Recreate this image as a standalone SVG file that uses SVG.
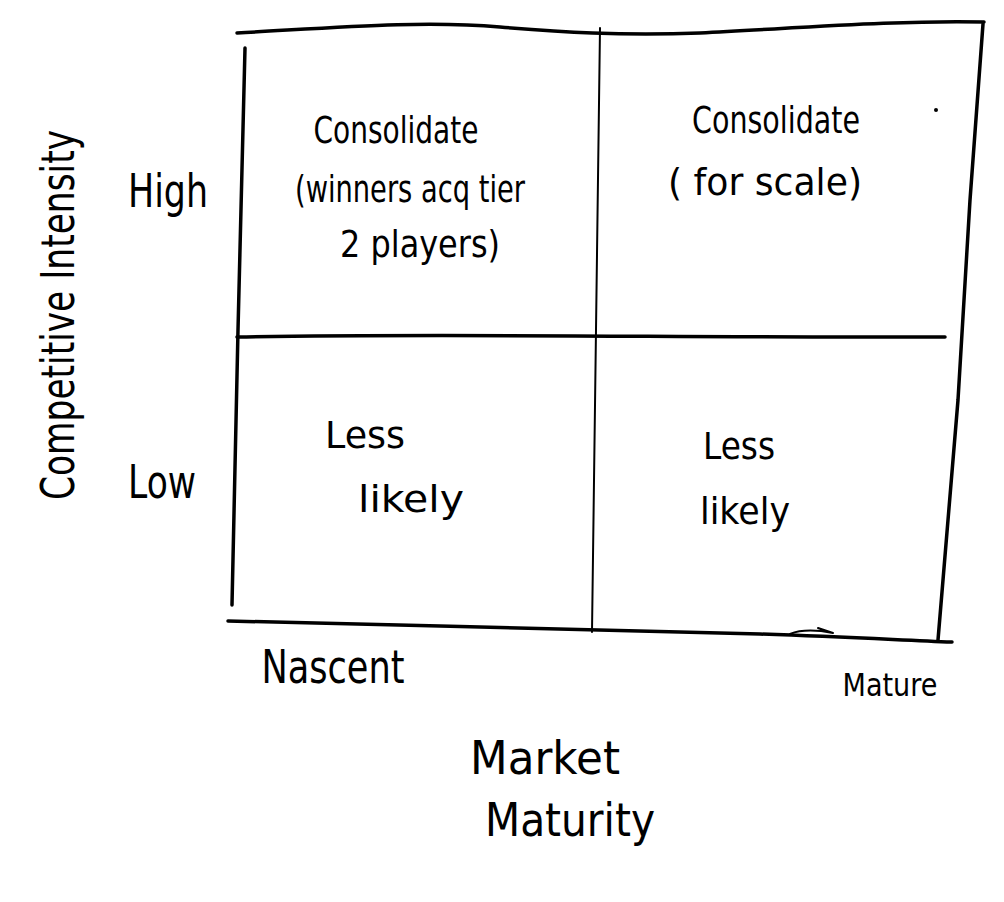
<svg xmlns="http://www.w3.org/2000/svg" width="1004" height="902" viewBox="0 0 1004 902">
<style>
.ln{fill:none;stroke:#000;stroke-width:3.5;stroke-linecap:round;stroke-linejoin:round}
.thin{fill:none;stroke:#000;stroke-width:2;stroke-linecap:round}
text{font-family:"DejaVu Sans","Liberation Sans",sans-serif;fill:#000}
.t{font-size:46px}
.s{font-size:38px}
</style>
<rect width="1004" height="902" fill="#fff"/>
<g id="connectors">
<path class="ln" d="M237,33 C330,28 420,20 500,27 C560,32 620,36 700,33 C800,28 900,20 984,22"/>
<path class="ln" d="M245,48 L238,330 L232,605"/>
<path class="ln" d="M983,24 L970,200 L958,400 L938,640"/>
<path class="thin" d="M600,28 L596,330 L592,632"/>
<path class="ln" d="M237,337 C450,333 700,338 945,337"/>
<path class="ln" d="M228,621 C400,624 600,631 760,634 C850,637 900,640 952,642"/>
<path class="thin" d="M790,634 C800,630 812,629 833,633 M818,628 L833,633"/>
<circle cx="936" cy="110" r="2" fill="#000"/>
</g>
<g id="axis-y">
<text class="t" font-size="48" transform="translate(74,315) rotate(-90)" text-anchor="middle" textLength="370" lengthAdjust="spacingAndGlyphs">Competitive Intensity</text>
<text class="t" x="168" y="207" text-anchor="middle" textLength="80" lengthAdjust="spacingAndGlyphs">High</text>
<text class="t" x="162" y="498" text-anchor="middle" textLength="68" lengthAdjust="spacingAndGlyphs">Low</text>
</g>
<g id="q-top-left">
<text class="s" x="396" y="143" text-anchor="middle" textLength="165" lengthAdjust="spacingAndGlyphs">Consolidate</text>
<text class="s" x="410" y="202" text-anchor="middle" textLength="230" lengthAdjust="spacingAndGlyphs">(winners acq tier</text>
<text class="s" x="420" y="257" text-anchor="middle" textLength="160" lengthAdjust="spacingAndGlyphs">2 players)</text>
</g>
<g id="q-top-right">
<text class="s" x="776" y="133" text-anchor="middle" textLength="168" lengthAdjust="spacingAndGlyphs">Consolidate</text>
<text class="s" x="765" y="195" text-anchor="middle" textLength="194" lengthAdjust="spacingAndGlyphs">( for scale)</text>
</g>
<g id="q-bottom-left">
<text class="s" x="365" y="448" text-anchor="middle" textLength="80" lengthAdjust="spacingAndGlyphs">Less</text>
<text class="s" x="411" y="512" text-anchor="middle" textLength="106" lengthAdjust="spacingAndGlyphs">likely</text>
</g>
<g id="q-bottom-right">
<text class="s" x="739" y="459" text-anchor="middle" textLength="72" lengthAdjust="spacingAndGlyphs">Less</text>
<text class="s" x="745" y="524" text-anchor="middle" textLength="90" lengthAdjust="spacingAndGlyphs">likely</text>
</g>
<g id="axis-x">
<text class="t" x="333" y="683" text-anchor="middle" textLength="143" lengthAdjust="spacingAndGlyphs">Nascent</text>
<text font-size="32" x="890" y="696" text-anchor="middle" textLength="95" lengthAdjust="spacingAndGlyphs">Mature</text>
<text class="t" x="545" y="774" text-anchor="middle" textLength="150" lengthAdjust="spacingAndGlyphs">Market</text>
<text class="t" x="570" y="836" text-anchor="middle" textLength="170" lengthAdjust="spacingAndGlyphs">Maturity</text>
</g>
</svg>
